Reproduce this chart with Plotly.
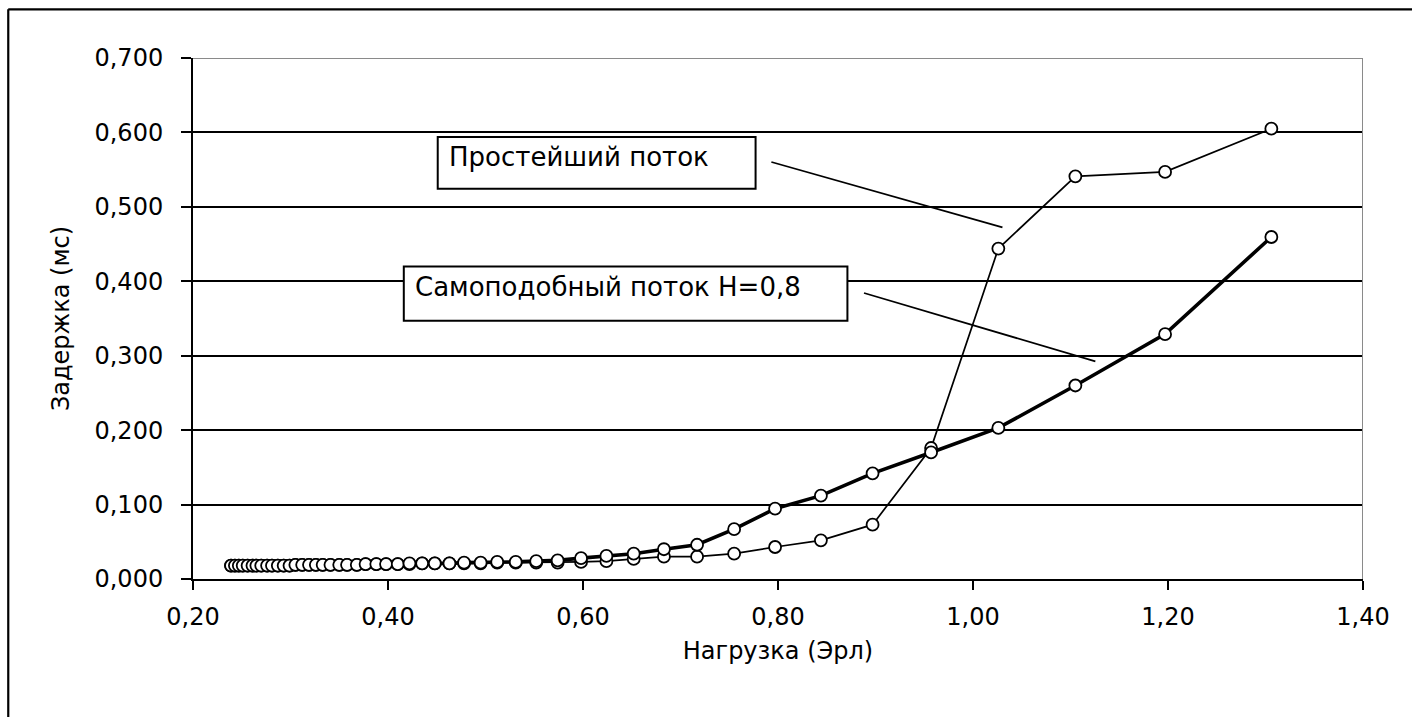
import plotly.graph_objects as go

# ---- data ----
load = [0.239, 0.243, 0.247, 0.251, 0.256, 0.261, 0.265, 0.270, 0.276, 0.281,
        0.287, 0.293, 0.299, 0.305, 0.312, 0.319, 0.326, 0.333, 0.341, 0.350,
        0.358, 0.368, 0.377, 0.388, 0.398, 0.410, 0.422, 0.435, 0.448, 0.463,
        0.478, 0.495, 0.512, 0.531, 0.552, 0.574, 0.598, 0.624, 0.652, 0.683,
        0.717, 0.755, 0.797, 0.844, 0.897, 0.957, 1.026, 1.105, 1.197, 1.306]

delay_poisson = [0.018, 0.018, 0.018, 0.018, 0.018, 0.018, 0.018, 0.018, 0.018, 0.018,
                 0.018, 0.018, 0.018, 0.019, 0.019, 0.019, 0.019, 0.019, 0.019, 0.019,
                 0.019, 0.019, 0.020, 0.020, 0.020, 0.020, 0.020, 0.021, 0.021, 0.021,
                 0.021, 0.021, 0.022, 0.022, 0.022, 0.022, 0.023, 0.024, 0.027, 0.030,
                 0.030, 0.034, 0.043, 0.052, 0.073, 0.176, 0.444, 0.541, 0.547, 0.605]

delay_selfsim = [0.018, 0.018, 0.018, 0.018, 0.018, 0.018, 0.018, 0.018, 0.018, 0.018,
                 0.018, 0.018, 0.018, 0.019, 0.019, 0.019, 0.019, 0.019, 0.019, 0.019,
                 0.019, 0.019, 0.020, 0.020, 0.020, 0.020, 0.021, 0.021, 0.021, 0.021,
                 0.022, 0.022, 0.023, 0.023, 0.024, 0.025, 0.028, 0.031, 0.034, 0.040,
                 0.046, 0.067, 0.0945, 0.112, 0.142, 0.170, 0.203, 0.260, 0.329, 0.4595]

series_names = ["Простейший поток", "Самоподобный поток H=0,8"]
x_ticks = [0.2, 0.4, 0.6, 0.8, 1.0, 1.2, 1.4]
y_ticks = [0.0, 0.1, 0.2, 0.3, 0.4, 0.5, 0.6, 0.7]
x_title = "Нагрузка (Эрл)"
y_title = "Задержка (мс)"

FONT = "DejaVu Sans"

fig = go.Figure()
fig.add_trace(go.Scatter(
    x=load, y=delay_poisson, mode="lines+markers", name=series_names[0],
    line=dict(color="black", width=1.7),
    marker=dict(symbol="circle", size=12, color="white",
                line=dict(color="black", width=1.8)),
    cliponaxis=False,
))
fig.add_trace(go.Scatter(
    x=load, y=delay_selfsim, mode="lines+markers", name=series_names[1],
    line=dict(color="black", width=3.6),
    marker=dict(symbol="circle", size=12, color="white",
                line=dict(color="black", width=1.8)),
    cliponaxis=False,
))

fig.update_layout(
    width=1412, height=717,
    margin=dict(l=193, r=49, t=58, b=138, pad=0),
    paper_bgcolor="white", plot_bgcolor="white",
    showlegend=False,
    separators=", ",
    font=dict(family=FONT, size=24, color="black"),
)

fig.update_xaxes(
    range=[0.2, 1.4], tickmode="array", tickvals=x_ticks, tickformat=".2f",
    showgrid=False, zeroline=False,
    showline=True, linecolor="black", linewidth=2,
    ticks="outside", ticklen=9, tickwidth=2, tickcolor="black",
    ticklabelstandoff=6,
    title=dict(text=x_title, standoff=12, font=dict(family=FONT, size=24)),
)
fig.update_yaxes(
    range=[0, 0.7], tickmode="array", tickvals=y_ticks, tickformat=".3f",
    showgrid=True, gridcolor="black", gridwidth=1.6, zeroline=False,
    showline=True, linecolor="black", linewidth=2,
    ticks="outside", ticklen=10, tickwidth=2, tickcolor="black",
    ticklabelstandoff=13,
    title=dict(text=y_title, standoff=18, font=dict(family=FONT, size=24)),
)

shapes = [
    # gray plot-area border, top and right
    dict(type="line", xref="x", yref="y", x0=0.2, x1=1.4, y0=0.7, y1=0.7,
         line=dict(color="#8a8a8a", width=2.2), layer="above"),
    dict(type="line", xref="x", yref="y", x0=1.4, x1=1.4, y0=0.0, y1=0.7,
         line=dict(color="#8a8a8a", width=2), layer="above"),
    # label boxes
    dict(type="rect", xref="x", yref="y", x0=0.451, x1=0.777, y0=0.5244, y1=0.5939,
         line=dict(color="black", width=2), fillcolor="white", layer="above"),
    dict(type="rect", xref="x", yref="y", x0=0.4162, x1=0.8712, y0=0.347, y1=0.420,
         line=dict(color="black", width=2), fillcolor="white", layer="above"),
    # leader lines
    dict(type="line", xref="x", yref="y", x0=0.7932, y0=0.5603, x1=1.0302, y1=0.4724,
         line=dict(color="black", width=1.7), layer="above"),
    dict(type="line", xref="x", yref="y", x0=0.8882, y0=0.3843, x1=1.1255, y1=0.2924,
         line=dict(color="black", width=1.7), layer="above"),
    # outer chart frame (left and top edges visible)
    dict(type="line", xref="paper", yref="paper", x0=-0.1579, x1=-0.1579, y0=-0.27, y1=1.0935,
         line=dict(color="black", width=2.2), layer="above"),
    dict(type="line", xref="paper", yref="paper", x0=-0.1579, x1=1.05, y0=1.0935, y1=1.0935,
         line=dict(color="black", width=2.2), layer="above"),
]
fig.update_layout(shapes=shapes)

fig.add_annotation(x=0.4609, y=0.5667, xref="x", yref="y", text=series_names[0],
                   showarrow=False, xanchor="left", yanchor="middle",
                   font=dict(family=FONT, size=26, color="black"))
fig.add_annotation(x=0.4256, y=0.392, xref="x", yref="y", text=series_names[1],
                   showarrow=False, xanchor="left", yanchor="middle",
                   font=dict(family=FONT, size=26, color="black"))

fig.write_html("out.html",
               config={"displayModeBar": False},
               post_script="document.body.style.margin='0';document.body.style.overflow='hidden';")
